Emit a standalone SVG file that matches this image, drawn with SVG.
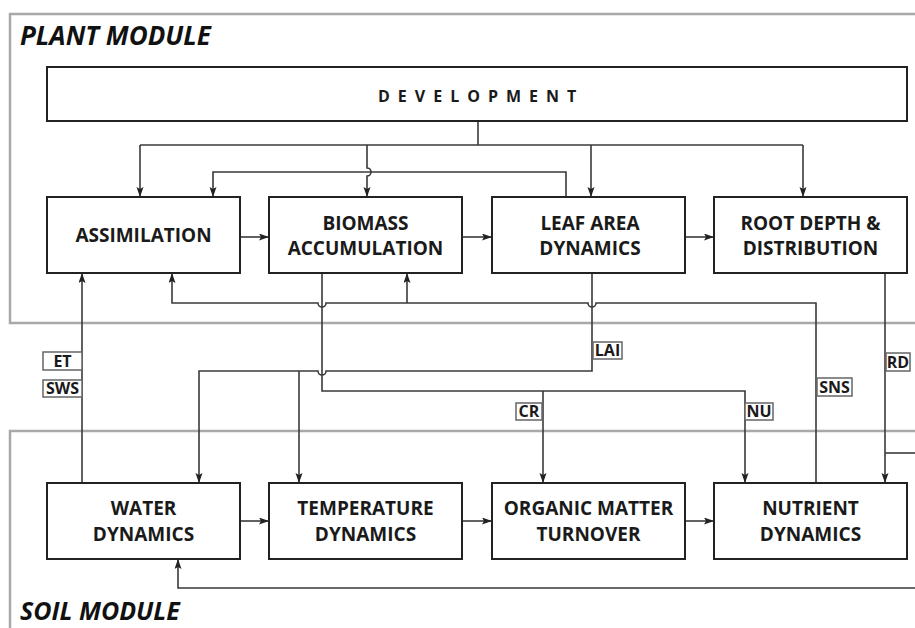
<svg xmlns="http://www.w3.org/2000/svg" width="915" height="628" viewBox="0 0 915 628">
<defs>
<style>
.frame{fill:none;stroke:#a8a8a8;stroke-width:2.5}
.box rect{fill:#fff;stroke:#222;stroke-width:2}
.box text{font-family:"Open Sans","Liberation Sans",sans-serif;font-weight:bold;font-size:19px;fill:#1a1a1a;text-anchor:middle}
.c{fill:none;stroke:#3a3a3a;stroke-width:1.6}
.a{marker-end:url(#ah)}
.lbl rect{fill:#fff;stroke:#666;stroke-width:1.5}
.lbl text{font-family:"Open Sans","Liberation Sans",sans-serif;font-weight:bold;font-size:16px;fill:#1a1a1a;text-anchor:middle}
.mod{font-family:"Open Sans","Liberation Sans",sans-serif;font-weight:bold;font-style:italic;font-size:26px;fill:#111}
</style>
<marker id="ah" markerUnits="userSpaceOnUse" markerWidth="11" markerHeight="8" refX="10" refY="3.5" orient="auto">
<path d="M0,0 L10,3.5 L0,7 L2,3.5 z" fill="#222"/>
</marker>
</defs>
<rect width="915" height="628" fill="#fff"/>
<path class="frame" d="M915,14 H10 V323 H915"/>
<path class="frame" d="M915,431 H10 V628"/>
<text class="mod" x="20" y="45">PLANT MODULE</text>
<text class="mod" x="20" y="620" style="font-size:25px">SOIL MODULE</text>
<g id="connectors">
<path class="c" d="M478,121 V145"/>
<path class="c" d="M140,145 H803"/>
<path class="c a" d="M140,145 V197"/>
<path class="c a" d="M367,145 V168 A4,4 0 0 1 367,176 V197"/>
<path class="c a" d="M591,145 V197"/>
<path class="c a" d="M803,145 V197"/>
<path class="c a" d="M566,197 V172 H213 V197"/>
<path class="c a" d="M240,237 H269"/>
<path class="c a" d="M462,237 H492"/>
<path class="c a" d="M685,237 H714"/>
<path class="c a" d="M816,483 V303 H596 A4,4 0 0 1 588,303 H326 A4,4 0 0 1 318,303 H172 V273"/>
<path class="c a" d="M407,303 V273"/>
<path class="c a" d="M322,273 V391 H745 V483"/>
<path class="c a" d="M543,391 V483"/>
<path class="c a" d="M592,273 V371 H326 A4,4 0 0 1 318,371 H199 V483"/>
<path class="c a" d="M299,371 V483"/>
<path class="c a" d="M82,483 V273"/>
<path class="c a" d="M885,273 V483"/>
<path class="c" d="M885,453 H915"/>
<path class="c a" d="M915,588 H178 V559"/>
<path class="c a" d="M240,521 H269"/>
<path class="c a" d="M462,521 H492"/>
<path class="c a" d="M685,521 H714"/>
</g>
<g id="development" class="box">
<rect x="47" y="67" width="860" height="54"/>
<text x="378" y="102" style="text-anchor:start;font-size:16px;letter-spacing:8px">DEVELOPMENT</text>
</g>
<g id="assimilation" class="box"><rect x="47" y="197" width="193" height="76"/><text x="143.5" y="242">ASSIMILATION</text></g>
<g id="biomass" class="box"><rect x="269" y="197" width="193" height="76"/><text x="365.5" y="230">BIOMASS</text><text x="365.5" y="255">ACCUMULATION</text></g>
<g id="leafarea" class="box"><rect x="492" y="197" width="193" height="76"/><text x="590" y="230">LEAF AREA</text><text x="590" y="255">DYNAMICS</text></g>
<g id="root" class="box"><rect x="714" y="197" width="193" height="76"/><text x="810.5" y="230">ROOT DEPTH &amp;</text><text x="810.5" y="255">DISTRIBUTION</text></g>
<g id="water" class="box"><rect x="47" y="483" width="193" height="76"/><text x="143.5" y="515">WATER</text><text x="143.5" y="541">DYNAMICS</text></g>
<g id="temperature" class="box"><rect x="269" y="483" width="193" height="76"/><text x="365.5" y="515">TEMPERATURE</text><text x="365.5" y="541">DYNAMICS</text></g>
<g id="organic" class="box"><rect x="492" y="483" width="193" height="76"/><text x="588.5" y="515">ORGANIC MATTER</text><text x="588.5" y="541">TURNOVER</text></g>
<g id="nutrient" class="box"><rect x="714" y="483" width="193" height="76"/><text x="810.5" y="515">NUTRIENT</text><text x="810.5" y="541">DYNAMICS</text></g>
<g id="labels">
<g class="lbl"><rect x="43" y="352" width="39" height="18"/><text x="62.5" y="367">ET</text></g>
<g class="lbl"><rect x="43" y="380" width="39" height="17"/><text x="62.5" y="394">SWS</text></g>
<g class="lbl"><rect x="593" y="342" width="29" height="17"/><text x="607.5" y="356">LAI</text></g>
<g class="lbl"><rect x="886" y="353" width="24" height="18"/><text x="898" y="368">RD</text></g>
<g class="lbl"><rect x="817" y="378" width="35" height="18"/><text x="834.5" y="393">SNS</text></g>
<g class="lbl"><rect x="516" y="403" width="26" height="17"/><text x="529" y="417">CR</text></g>
<g class="lbl"><rect x="745" y="403" width="28" height="17"/><text x="759" y="417">NU</text></g>
</g>
</svg>
